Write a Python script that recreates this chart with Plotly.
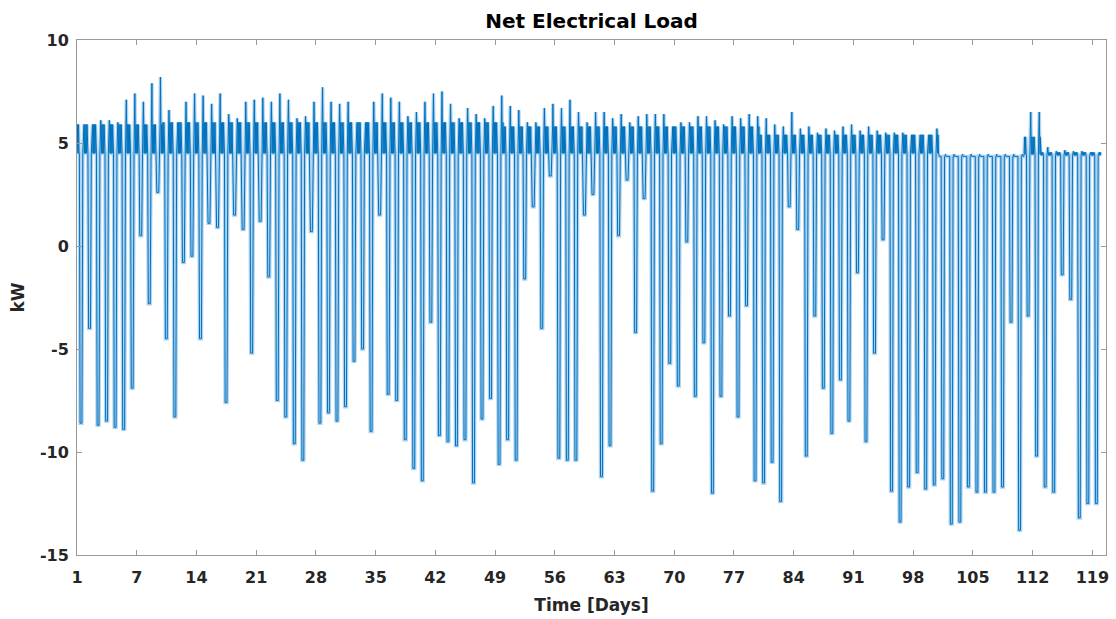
import plotly.graph_objects as go

# ---- data (one value per day) ----
# daily minimum of net load (midday PV dip), kW
daily_min = [
    -8.6, -4.0, -8.7, -8.5, -8.8, -8.9, -6.9, 0.5, -2.8, 2.6,
    -4.5, -8.3, -0.8, -0.5, -4.5, 1.1, 0.9, -7.6, 1.5, 0.8,
    -5.2, 1.2, -1.5, -7.5, -8.3, -9.6, -10.4, 0.7, -8.6, -8.1,
    -8.5, -7.8, -5.6, -5.0, -9.0, 1.5, -7.2, -7.5, -9.4, -10.8,
    -11.4, -3.7, -9.2, -9.5, -9.7, -9.4, -11.5, -8.4, -7.4, -10.6,
    -9.4, -10.4, -1.6, 1.9, -4.0, 3.4, -10.3, -10.4, -10.4, 1.5,
    2.5, -11.2, -9.7, 0.5, 3.2, -4.2, 2.3, -11.9, -9.6, -5.7,
    -6.8, 0.2, -7.3, -4.7, -12.0, -7.3, -3.4, -8.3, -2.9, -11.4,
    -11.5, -10.5, -12.4, 1.9, 0.8, -10.2, -3.4, -6.9, -9.1, -6.5,
    -8.5, -1.3, -9.5, -5.2, 0.3, -11.9, -13.4, -11.7, -11.0, -11.8,
    -11.6, -11.3, -13.5, -13.4, -11.7, -11.95, -11.95, -11.95, -11.7, -3.7,
    -13.8, -3.4, -10.2, -11.7, -11.95, -1.4, -2.6, -13.2, -12.5, -12.5,
]

# daily maximum (evening peak), kW
daily_max = [
    5.6, 5.9, 6.1, 6.1, 6.0, 7.1, 7.4, 7.0, 7.9, 8.2,
    6.6, 6.0, 7.0, 7.4, 7.3, 6.9, 7.4, 6.4, 6.2, 7.0,
    7.1, 7.2, 7.0, 7.4, 7.1, 6.2, 6.3, 7.0, 7.7, 7.0,
    6.9, 7.0, 6.0, 5.9, 7.0, 7.4, 7.2, 7.0, 6.3, 6.5,
    7.0, 7.4, 7.5, 6.9, 6.2, 6.7, 6.4, 6.2, 6.8, 7.3,
    6.8, 6.6, 6.0, 6.0, 6.7, 6.9, 6.7, 7.1, 6.5, 6.0,
    6.5, 6.5, 6.2, 6.4, 6.0, 6.3, 6.4, 6.4, 6.4, 5.6,
    6.0, 6.0, 6.3, 6.3, 6.1, 5.9, 6.3, 6.2, 6.4, 6.3,
    6.2, 5.9, 5.8, 6.5, 5.7, 5.8, 5.5, 5.7, 5.6, 5.8,
    5.9, 5.6, 5.8, 5.6, 5.5, 5.5, 5.5, 5.3, 4.9, 5.2,
    5.7, 4.45, 4.45, 4.45, 4.45, 4.45, 4.45, 4.45, 4.45, 4.45,
    4.45, 6.5, 6.5, 4.8, 4.6, 4.65, 4.6, 4.6, 4.45, 4.45,
]

# night-time base load, kW
daily_base = [4.5] * 101 + [4.35] * 10 + [4.45] * 2 + [4.4] * 7

# typical evening/morning load level, kW
daily_typical = [5.9] * 10 + [6.0] * 40 + [5.8] * 30 + [5.4] * 21 + [4.35] * 10 + [5.3] * 2 + [4.55] * 7

tick_days = [0, 7, 14, 21, 28, 35, 42, 49, 56, 63, 70, 77, 84, 91, 98, 105, 112, 119]
tick_text = ["1", "7", "14", "21", "28", "35", "42", "49", "56", "63", "70", "77",
             "84", "91", "98", "105", "112", "119"]
y_ticks = [-15, -10, -5, 0, 5, 10]
y_tick_text = ["-15", "-10", "-5", "0", "5", "10"]

# ---- build intraday trace from the daily values ----
t, y = [], []
for d in range(len(daily_min)):
    b, ty, mn, mx = daily_base[d], daily_typical[d], daily_min[d], daily_max[d]
    pts = [
        (0.00, b), (0.06, ty), (0.12, b), (0.18, ty), (0.24, b), (0.28, b),
        (0.36, mn), (0.58, mn), (0.68, b),
        (0.74, ty), (0.78, mx), (0.82, ty), (0.87, b), (0.92, ty), (0.97, b),
    ]
    for off, v in pts:
        t.append(d + off)
        y.append(v)

fig = go.Figure()
# soft under-layer (gives the light-blue body of the dense plotted line)
fig.add_trace(go.Scatter(
    x=t, y=y, mode="lines",
    line=dict(color="rgba(110,175,228,0.55)", width=3.5),
    showlegend=False, hoverinfo="skip",
))
fig.add_trace(go.Scatter(
    x=t, y=y, mode="lines",
    line=dict(color="#0072BD", width=1),
    showlegend=False, hoverinfo="skip",
))

font_family = "DejaVu Sans, Verdana, sans-serif"
axis_common = dict(
    showline=True, linecolor="#9a9a9a", linewidth=1, mirror="allticks",
    ticks="inside", ticklen=5, tickcolor="#9a9a9a",
    showgrid=False, zeroline=False, automargin=False,
    tickfont=dict(family=font_family, size=16, color="#262626", weight="bold"),
)

fig.update_layout(
    width=1116, height=619,
    margin=dict(l=77, r=10, t=40, b=64),
    paper_bgcolor="white", plot_bgcolor="white",
    title=dict(text="Net Electrical Load", x=0.5, xref="paper", xanchor="center",
               y=0.966, yanchor="middle",
               font=dict(family=font_family, size=20, color="#000000", weight="bold")),
    xaxis=dict(range=[0, 120.6], tickvals=tick_days, ticktext=tick_text,
               ticklabelstandoff=8,
               title=dict(text="Time [Days]", standoff=12,
                          font=dict(family=font_family, size=17, color="#262626", weight="bold")),
               **axis_common),
    yaxis=dict(range=[-15, 10], tickvals=y_ticks, ticktext=y_tick_text,
               ticklabelstandoff=4,
               title=dict(text="kW", standoff=10,
                          font=dict(family=font_family, size=17, color="#262626", weight="bold")),
               **axis_common),
)

fig.write_html("out.html")
